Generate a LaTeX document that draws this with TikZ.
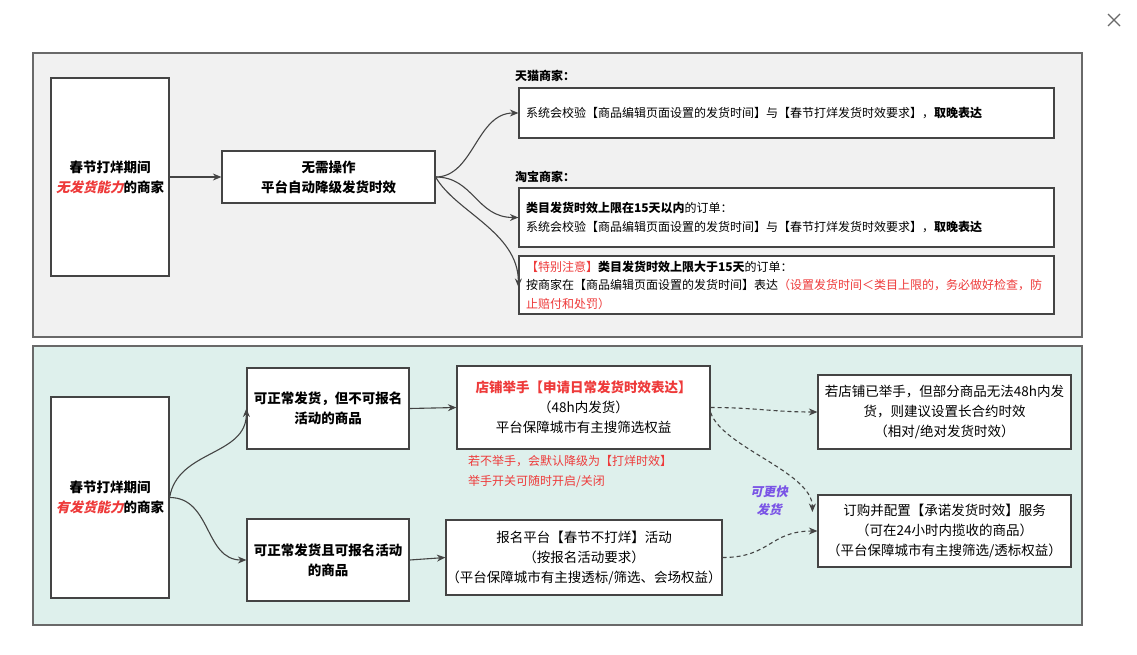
\documentclass[tikz,border=0pt]{standalone}
\usepackage{fontspec}
\setmainfont{Noto Sans CJK SC}
\newfontfamily\slantfont{Noto Sans CJK SC}[FakeSlant=0.22]
\usetikzlibrary{arrows.meta}
\definecolor{panelgray}{RGB}{241,241,241}
\definecolor{panelteal}{RGB}{222,240,236}
\definecolor{edge}{RGB}{68,68,68}
\definecolor{redtxt}{RGB}{238,58,58}
\definecolor{purpletxt}{RGB}{122,84,230}
\tikzset{
  panel/.style={draw=edge!80, line width=1.3pt, inner sep=0pt},
  box/.style={draw=edge, line width=1.2pt, fill=white, inner sep=0pt, align=center},
  big/.style={font=\fontsize{13.5}{20}\selectfont},
  bigb/.style={font=\fontsize{13.5}{20}\selectfont\bfseries},
  leftbox/.style={box, align=left, text width=521pt, font=\fontsize{12}{18.5}\selectfont},
  grouplabel/.style={anchor=west, inner sep=0pt, font=\fontsize{12}{15}\selectfont\bfseries},
  note/.style={anchor=west, inner sep=0pt, align=left, text=redtxt, font=\fontsize{12}{20}\selectfont},
  hint/.style={inner sep=0pt, align=center, text=purpletxt, font=\fontsize{12.5}{18}\selectfont\slantfont\bfseries},
  conn/.style={draw=edge, line width=1.1pt, -{Stealth[length=8.5pt,width=7pt]}},
  dconn/.style={conn, dash pattern=on 4pt off 3pt},
}
\begin{document}
\begin{tikzpicture}[x=1pt,y=-1pt]
\useasboundingbox[fill=white] (0,0) rectangle (1137,654);
% close mark
\draw[edge!80, line width=1.1pt] (1108,14) -- (1120,26) (1120,14) -- (1108,26);
% panels
\node[panel, fill=panelgray, minimum width=1049pt, minimum height=284pt] (P1) at (557.5,195) {};
\node[panel, fill=panelteal, minimum width=1049pt, minimum height=279pt] (P2) at (557.5,485.5) {};
% top panel
\node[box, bigb, minimum width=118pt, minimum height=198pt] (A1) at (110,177)
  {春节打烊期间\\\textcolor{redtxt}{\slantfont\bfseries 无发货能力}的商家};
\node[box, bigb, minimum width=213pt, minimum height=52pt] (B1) at (328.5,177)
  {无需操作\\平台自动降级发货时效};
\node[grouplabel] (L1) at (515,76) {天猫商家：};
\node[leftbox, minimum width=535pt, minimum height=50pt] (C1) at (786.5,113)
  {系统会校验【商品编辑页面设置的发货时间】与【春节打烊发货时效要求】，\textbf{取晚表达}};
\node[grouplabel] (L2) at (515,177) {淘宝商家：};
\node[leftbox, minimum width=535pt, minimum height=59pt] (C2) at (786.5,217.5)
  {\textbf{类目发货时效上限在15天以内}的订单：\\系统会校验【商品编辑页面设置的发货时间】与【春节打烊发货时效要求】，\textbf{取晚表达}};
\node[leftbox, minimum width=535pt, minimum height=58pt] (C3) at (786.5,285)
  {\textcolor{redtxt}{【特别注意】}\textbf{类目发货时效上限大于15天}的订单：\\按商家在【商品编辑页面设置的发货时间】表达\textcolor{redtxt}{（设置发货时间＜类目上限的，务必做好检查，防}\\\textcolor{redtxt}{止赔付和处罚）}};
% bottom panel
\node[box, bigb, minimum width=118pt, minimum height=201pt] (A2) at (110,497.5)
  {春节打烊期间\\\textcolor{redtxt}{\slantfont\bfseries 有发货能力}的商家};
\node[box, bigb, minimum width=162pt, minimum height=81pt] (B2) at (328,408.5)
  {可正常发货，但不可报名\\活动的商品};
\node[box, bigb, minimum width=162pt, minimum height=82pt] (B3) at (328,560)
  {可正常发货且可报名活动\\的商品};
\node[box, big, minimum width=253pt, minimum height=83pt] (C4) at (583.5,407.5)
  {\textcolor{redtxt}{\bfseries 店铺举手【申请日常发货时效表达】}\\（48h内发货）\\平台保障城市有主搜筛选权益};
\node[note] (N1) at (468,471) {若不举手，会默认降级为【打烊时效】\\举手开关可随时开启/关闭};
\node[box, big, minimum width=276pt, minimum height=75pt] (C5) at (584,557.5)
  {报名平台【春节不打烊】活动\\（按报名活动要求）\\（平台保障城市有主搜透标/筛选、会场权益）};
\node[box, big, minimum width=253pt, minimum height=74pt] (D1) at (944.5,412)
  {若店铺已举手，但部分商品无法48h内发\\货，则建议设置长合约时效\\（相对/绝对发货时效）};
\node[box, big, minimum width=253pt, minimum height=72pt] (D2) at (944.5,531)
  {订购并配置【承诺发货时效】服务\\（可在24小时内揽收的商品）\\（平台保障城市有主搜筛选/透标权益）};
\node[hint] (Q) at (769,501) {可更快\\发货};
% connectors top
\draw[conn] (A1.east) -- (B1.west);
\draw[conn] (B1.east) .. controls +(38,0) and +(-42,0) .. (C1.west);
\draw[conn] (B1.east) .. controls +(38,0) and +(-42,0) .. (C2.west);
\draw[conn] (B1.east) .. controls +(20,35) and +(0,-55) .. ([yshift=-2pt]C3.west);
% connectors bottom
\draw[conn] (A2.east) .. controls +(8,-48) and +(0,48) .. (B2.west);
\draw[conn] (A2.east) .. controls +(42,0) and +(-42,0) .. (B3.west);
\draw[conn] (B2.east) -- (C4.west);
\draw[conn] (B3.east) -- (C5.west);
\draw[dconn] (C4.east) .. controls +(45,0) and +(-45,0) .. (D1.west);
\draw[dconn] ([yshift=-5pt]C4.east) .. controls +(12,35) and +(0,-40) .. ([xshift=-5pt,yshift=19pt]D2.west);
\draw[dconn] (C5.east) .. controls +(48,0) and +(-48,0) .. (D2.west);
\end{tikzpicture}
\end{document}
